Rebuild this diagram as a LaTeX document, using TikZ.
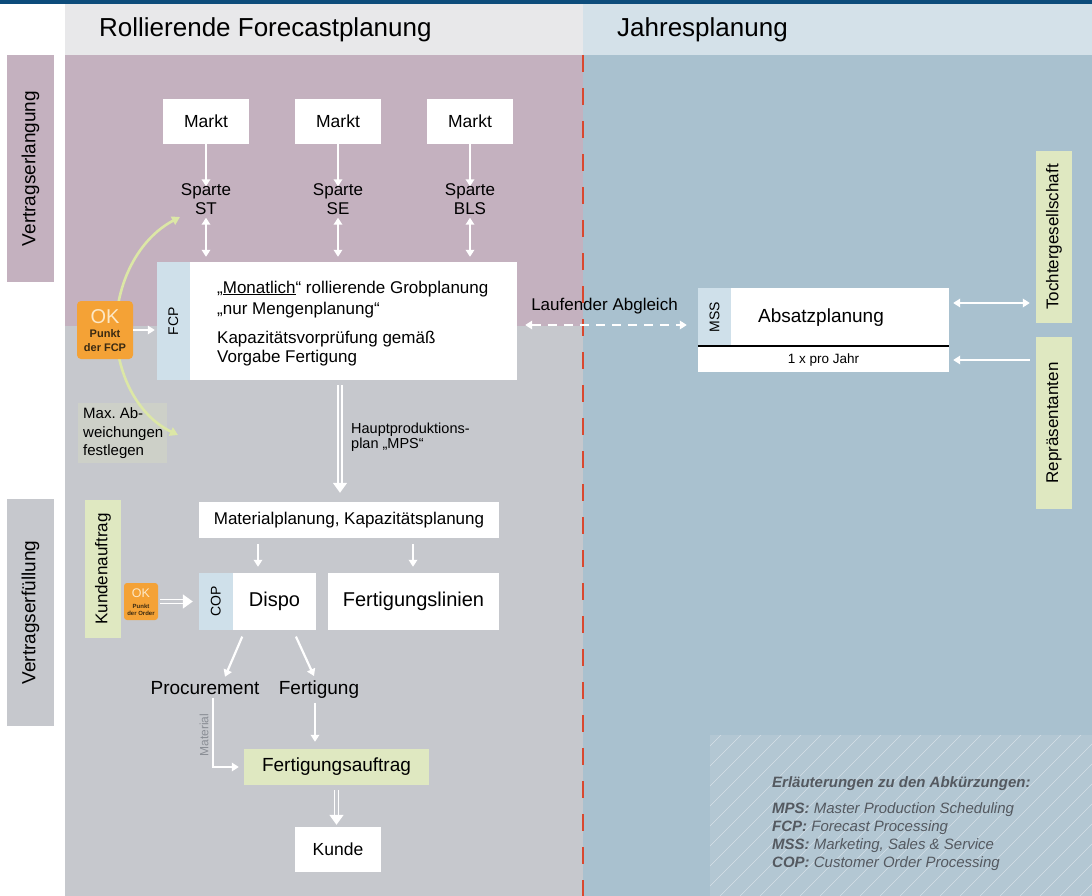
\documentclass[tikz,border=0pt]{standalone}
\usepackage{fontspec}
\setmainfont{Liberation Sans}
\usetikzlibrary{arrows.meta}

\definecolor{topbar}{HTML}{0D4C7B}
\definecolor{hdrgray}{HTML}{E8E8EA}
\definecolor{hdrblue}{HTML}{D4E1E9}
\definecolor{plum}{HTML}{C4B1BF}
\definecolor{slate}{HTML}{C6C8CD}
\definecolor{sky}{HTML}{A9C1CF}
\definecolor{strip}{HTML}{CFE0EA}
\definecolor{lime}{HTML}{DFE8C1}
\definecolor{amber}{HTML}{F4A236}
\definecolor{okcream}{HTML}{FDE8C6}
\definecolor{okdark}{HTML}{3A2A12}
\definecolor{note}{HTML}{CDD0C8}
\definecolor{arcgreen}{HTML}{DCE7A6}
\definecolor{divider}{HTML}{D9482F}
\definecolor{legendtxt}{HTML}{545960}
\definecolor{legendbg}{HTML}{B3C7D3}
\definecolor{matgray}{HTML}{8A8E95}

\newcommand\fsz[2]{\fontsize{#1}{#2}\selectfont}

\begin{document}
\begin{tikzpicture}[x=1pt,y=-1pt,
  panel/.style={inner sep=0pt},
  whitebox/.style={fill=white, inner sep=0pt, align=center},
  lbl/.style={inner sep=0pt},
  flow/.style={draw=white, line width=2.2pt, -{Triangle[length=7pt,width=8.5pt]}},
  flowboth/.style={draw=white, line width=2.2pt, {Triangle[length=7pt,width=8.5pt]}-{Triangle[length=7pt,width=8.5pt]}},
  dbl/.style={draw=white, line width=1.6pt, double=slate, double distance=2.4pt, -{Triangle[length=10pt,width=14pt]}},
  arcline/.style={draw=arcgreen, line width=2.6pt, -{Triangle[length=8pt,width=9pt]}}
]
\useasboundingbox (0,0) rectangle (1092,896);

% background areas
\fill[white] (0,0) rectangle (1092,896);
\fill[topbar] (0,0) rectangle (1092,4);
\fill[hdrgray] (65,4) rectangle (583,55);
\fill[hdrblue] (583,4) rectangle (1092,55);
\fill[plum] (65,55) rectangle (583,326);
\fill[slate] (65,326) rectangle (583,896);
\fill[sky] (583,55) rectangle (1092,896);

% hatched legend panel
\fill[legendbg] (710,735) rectangle (1092,896);
\begin{scope}
  \clip (710,735) rectangle (1092,896);
  \foreach \k in {0,...,32}
    \draw[white, opacity=0.45, line width=0.6pt] (520+\k*20,896) -- ++(190,-190);
\end{scope}

% divider between the two planning horizons
\draw[divider, line width=2.6pt, dash pattern=on 17pt off 16pt] (583,55) -- (583,896);

% headers
\node[lbl, anchor=west, font=\fsz{26}{30}] (hleft) at (99,30) {Rollierende Forecastplanung};
\node[lbl, anchor=west, font=\fsz{26}{30}] (hright) at (617,30) {Jahresplanung};

% phase labels
\node[panel, fill=plum, minimum width=47pt, minimum height=227pt] (vel) at (30.5,168.5) {};
\node[lbl, rotate=90, font=\fsz{19}{22}] (velt) at (vel.center) {Vertragserlangung};
\node[panel, fill=slate, minimum width=47pt, minimum height=227pt] (vef) at (30.5,612.5) {};
\node[lbl, rotate=90, font=\fsz{19}{22}] (veft) at (vef.center) {Vertragserfüllung};

% markets and divisions
\node[whitebox, minimum width=86pt, minimum height=45pt, font=\fsz{17.5}{21}] (m1) at (206,121.5) {Markt};
\node[whitebox, minimum width=86pt, minimum height=45pt, font=\fsz{17.5}{21}] (m2) at (338,121.5) {Markt};
\node[whitebox, minimum width=86pt, minimum height=45pt, font=\fsz{17.5}{21}] (m3) at (470,121.5) {Markt};
\node[lbl, align=center, font=\fsz{17}{19}] (s1) at (206,199) {Sparte\\ST};
\node[lbl, align=center, font=\fsz{17}{19}] (s2) at (338,199) {Sparte\\SE};
\node[lbl, align=center, font=\fsz{17}{19}] (s3) at (470,199) {Sparte\\BLS};

% forecast planning box
\node[panel, fill=white, minimum width=360pt, minimum height=118pt] (fcp) at (337,321) {};
\fill[strip] (fcp.north west) rectangle ([xshift=33pt]fcp.south west);
\node[lbl, rotate=90, font=\fsz{14}{16}] (fcpl) at ([xshift=16.5pt]fcp.west) {FCP};
\node[lbl, anchor=base west, font=\fsz{17}{20}] (fcpa) at (217,293) {„\underline{Monatlich}“ rollierende Grobplanung};
\node[lbl, anchor=base west, font=\fsz{17}{20}] (fcpb) at (217,314) {„nur Mengenplanung“};
\node[lbl, anchor=base west, font=\fsz{17}{20}] (fcpc) at (217,343) {Kapazitätsvorprüfung gemäß};
\node[lbl, anchor=base west, font=\fsz{17}{20}] (fcpd) at (217,362) {Vorgabe Fertigung};

\foreach \i in {1,2,3} {
  \draw[flow, shorten >=-3pt] (m\i.south) -- (s\i.north);
  \draw[flowboth, shorten <=3pt, shorten >=5pt] (s\i.south) -- (s\i.south |- fcp.north);
}

% deviation note, release arcs, OK point
\node[panel, fill=note, minimum width=89pt, minimum height=60pt] (maxab) at (122.5,433) {};
\node[lbl, anchor=west, align=left, font=\fsz{15}{18.5}] (maxabt) at (83,433.5) {Max.\ Ab-\\weichungen\\festlegen};

\coordinate (arcmid) at (116,328);
\coordinate (arctop) at (180,217);
\coordinate (arcbot) at (178,435);
\draw[arcline] (arcmid) .. controls (116.25,284) and (137.5,239.5) .. (arctop);
\draw[arcline] (arcmid) .. controls (115.75,371.75) and (136.5,415) .. (arcbot);

\node[panel, fill=amber, rounded corners=4pt, minimum width=56pt, minimum height=58pt] (okfcp) at (105,330) {};
\node[lbl, font=\fsz{20}{22}, text=okcream] (okfcpa) at (105,317) {OK};
\node[lbl, align=center, font=\bfseries\fsz{11}{14}, text=okdark] (okfcpb) at (105,340.5) {Punkt\\der FCP};
\draw[flow, shorten <=0pt, shorten >=2pt] (okfcp.east) -- (okfcp.east -| fcp.west);

% master production schedule
\node[whitebox, minimum width=300pt, minimum height=36pt, font=\fsz{17}{20}] (mat) at (349,520) {Materialplanung, Kapazitätsplanung};
\coordinate (hpx) at (340,0);
\draw[dbl, shorten <=5pt, shorten >=9pt] (fcp.south -| hpx) -- (mat.north -| hpx);
\node[lbl, anchor=west, align=left, font=\fsz{14.5}{15}] (hpt) at (351,437) {Hauptproduktions-\\plan „MPS“};

% order processing
\node[panel, fill=lime, minimum width=36pt, minimum height=138pt] (kauf) at (103,569) {};
\node[lbl, rotate=90, font=\fsz{17}{20}] (kauft) at (kauf.center) {Kundenauftrag};
\node[panel, fill=amber, rounded corners=3pt, minimum width=34pt, minimum height=37pt] (okord) at (141,601.5) {};
\node[lbl, font=\fsz{12.5}{14}, text=okcream] (okorda) at (141,593) {OK};
\node[lbl, align=center, font=\bfseries\fsz{6}{7}, text=okdark] (okordb) at (141,609.5) {Punkt\\der Order};

\node[panel, fill=white, minimum width=117pt, minimum height=57pt] (dispo) at (257.5,601.5) {};
\fill[strip] (dispo.north west) rectangle ([xshift=34pt]dispo.south west);
\node[lbl, rotate=90, font=\fsz{14}{16}] (copl) at ([xshift=17pt]dispo.west) {COP};
\node[lbl, font=\fsz{20}{24}] (dispot) at (274.5,601.5) {Dispo};
\node[whitebox, minimum width=171pt, minimum height=57pt, font=\fsz{20}{24}] (flin) at (413.5,601.5) {Fertigungslinien};

\draw[dbl, shorten <=2pt, shorten >=6pt] (okord.east) -- (okord.east -| dispo.west);
\coordinate (c1) at (258,0);
\coordinate (c2) at (413,0);
\draw[flow, shorten <=6pt, shorten >=6pt] (mat.south -| c1) -- (dispo.north -| c1);
\draw[flow, shorten <=6pt, shorten >=6pt] (mat.south -| c2) -- (flin.north -| c2);

\node[lbl, anchor=base, font=\fsz{19}{22}] (proc) at (205,694) {Procurement};
\node[lbl, anchor=base, font=\fsz{19}{22}] (fert) at (319,694) {Fertigung};
\draw[flow, shorten <=7pt] ([xshift=-12.5pt]dispo.south) -- ([xshift=20pt,yshift=4pt]proc.north);
\draw[flow, shorten <=7pt] ([xshift=35.5pt]dispo.south) -- ([xshift=-5pt,yshift=4pt]fert.north);

\node[whitebox, fill=lime, minimum width=185pt, minimum height=36pt, font=\fsz{19}{22}] (fa) at (336.5,767) {Fertigungsauftrag};
\node[whitebox, minimum width=86pt, minimum height=45pt, font=\fsz{17.5}{21}] (kunde) at (338,849.5) {Kunde};

\draw[draw=white, line width=2pt, -{Triangle[length=7pt,width=8.5pt]}, shorten >=5pt]
  ([xshift=8pt,yshift=-4pt]proc.south) |- (fa.west);
\node[lbl, rotate=90, font=\fsz{12}{14}, text=matgray] (matl) at (204,735) {Material};
\draw[flow, shorten <=5pt, shorten >=7pt] ([xshift=-4pt]fert.south) -- ([xshift=-4pt]fert.south |- fa.north);
\draw[dbl, shorten <=5pt, shorten >=2pt] (fa.south) -- (fa.south |- kunde.north);

% annual planning
\node[panel, fill=white, minimum width=251pt, minimum height=84pt] (mss) at (823.5,330) {};
\fill[strip] (mss.north west) rectangle (731,346);
\coordinate (mline) at (0,346);
\draw[black, line width=1.6pt] (mss.west |- mline) -- (mss.east |- mline);
\node[lbl, rotate=90, font=\fsz{14}{16}] (mssl) at (714.5,317) {MSS};
\node[lbl, font=\fsz{19}{22}] (absatz) at (821,318) {Absatzplanung};
\node[lbl, font=\fsz{13.5}{16}] (jahr) at (823.5,360) {1 x pro Jahr};

\node[lbl, font=\fsz{17}{20}] (lauf) at (604.5,306) {Laufender Abgleich};
\draw[flowboth, dash pattern=on 9pt off 7pt, shorten <=8pt, shorten >=11pt]
  ([yshift=-4pt]fcp.east) -- ([yshift=5pt]mss.west);

\node[panel, fill=lime, minimum width=36pt, minimum height=172pt] (toch) at (1054,237) {};
\node[lbl, rotate=90, font=\fsz{17}{20}] (tocht) at (toch.center) {Tochtergesellschaft};
\node[panel, fill=lime, minimum width=36pt, minimum height=172pt] (rep) at (1054,423) {};
\node[lbl, rotate=90, font=\fsz{17}{20}] (rept) at (rep.center) {Repräsentanten};

\coordinate (r1) at (0,303);
\coordinate (r2) at (0,360);
\draw[flowboth, shorten <=4pt, shorten >=6pt] (mss.east |- r1) -- (toch.west |- r1);
\draw[flow, shorten <=6pt, shorten >=4pt] (rep.west |- r2) -- (mss.east |- r2);

% abbreviations
\node[lbl, anchor=base west, font=\bfseries\itshape\fsz{15}{18}, text=legendtxt] (lg0) at (772,787) {Erläuterungen zu den Abkürzungen:};
\node[lbl, anchor=base west, font=\itshape\fsz{15}{18}, text=legendtxt] (lg1) at (772,813) {\textbf{MPS:} Master Production Scheduling};
\node[lbl, anchor=base west, font=\itshape\fsz{15}{18}, text=legendtxt] (lg2) at (772,831) {\textbf{FCP:} Forecast Processing};
\node[lbl, anchor=base west, font=\itshape\fsz{15}{18}, text=legendtxt] (lg3) at (772,849) {\textbf{MSS:} Marketing, Sales \& Service};
\node[lbl, anchor=base west, font=\itshape\fsz{15}{18}, text=legendtxt] (lg4) at (772,867) {\textbf{COP:} Customer Order Processing};
\end{tikzpicture}
\end{document}
